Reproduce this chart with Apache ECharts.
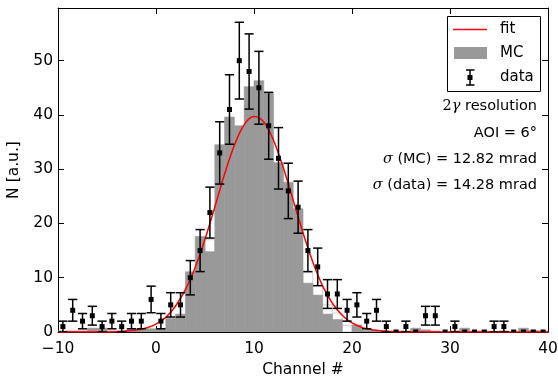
<!DOCTYPE html>
<html><head><meta charset="utf-8">
<script src="https://cdn.jsdelivr.net/npm/echarts@6/dist/echarts.min.js"></script>
<style>html,body{margin:0;padding:0;background:#fff}#c{width:558px;height:380px}</style>
</head><body><div id="c"></div>
<script>
// ---- data ----
const binStarts = [-10,-9,-8,-7,-6,-5,-4,-3,-2,-1,0,1,2,3,4,5,6,7,8,9,10,11,12,13,14,15,16,17,18,19,20,21,22,23,24,25,26,27,28,29,30,31,32,33,34,35,36,37,38,39];
const mcValues = [0.2,0.2,0.2,0.7,0.7,0.2,0.2,0.4,0.4,0.6,0.6,2.5,3.3,11.1,17.6,14.8,34.5,39.6,38.0,45.2,46.3,44.0,31.2,27.6,22.7,9.0,6.8,3.3,2.3,0,1.3,0.3,0.3,0,0.2,0.2,0.7,0.4,0.2,0,0.2,0.7,0.2,0.2,0,0.2,0,0.7,0.3,0.2];
const mcOutline = [0,0,0,0,0,0,0,0,0,0,0,0,0,0,0,17.0,0,0,0,0,0,0,0,0,0,10.9,8.5,5.0,3.5,1.2,0,0.6,0,0,0,0,0,0,0,0,0,0,0,0,0,0,0,0,0,0];
const dataCenters = [-9.5,-8.5,-7.5,-6.5,-5.5,-4.5,-3.5,-2.5,-1.5,-0.5,0.5,1.5,2.5,3.5,4.5,5.5,6.5,7.5,8.5,9.5,10.5,11.5,12.5,13.5,14.5,15.5,16.5,17.5,18.5,19.5,20.5,21.5,22.5,23.5,24.5,25.5,26.5,27.5,28.5,29.5,30.5,31.5,32.5,33.5,34.5,35.5,36.5,37.5,38.5,39.5];
const dataCounts = [1,4,2,3,1,2,1,2,2,6,2,5,5,10,15,22,33,41,50,48,45,38,32,26,23,15,12,7,7,4,5,2,4,1,0,1,0,3,3,0,1,0,0,0,1,1,0,0,0,0];
const dataErrors = [1,2,1.41,1.73,1,1.41,1,1.41,1.41,2.45,1.41,2.24,2.24,3.16,3.87,4.69,5.74,6.40,7.07,6.93,6.71,6.16,5.66,5.10,4.80,3.87,3.46,2.65,2.65,2,2.24,1.41,2,1,0,1,0,1.73,1.73,0,1,0,0,0,1,1,0,0,0,0];
const fitX = [-10,-6,-4,-2,-1,0,1,2,3,4,5,6,7,8,9,10,11,12,13,14,15,16,17,18,19,20,21,22,24,26,30,40];
const fitY = [0,0.01,0.06,0.35,0.74,1.46,2.7,4.8,7.8,11.9,17.1,23.0,29.1,34.4,38.2,39.7,38.7,35.3,30.2,24.3,18.3,12.9,8.5,5.3,3.1,1.67,0.85,0.41,0.08,0.01,0,0];
const xTickValues = [-10,0,10,20,30,40];
const yTickValues = [0,10,20,30,40,50];
const annotations = ['{s|2}{m|γ} resolution', 'AOI = 6{s|°}', '{m|σ} (MC) = 12.82 mrad', '{m|σ} (data) = 14.28 mrad'];
const legendLabels = ['fit','MC','data'];

const FONT = 'DejaVu Sans';
const chart = echarts.init(document.getElementById('c'), null, {renderer:'canvas'});

function xFmt(v){ return v < 0 ? '\u2212' + Math.abs(v) : String(v); }
function yFmt(v){ return yTickValues.indexOf(Math.round(v*1000)/1000) >= 0 ? String(v) : ''; }

function axisCommon(){ return {
  axisLine:{show:true, onZero:false, lineStyle:{color:'#000', width:1}},
  axisTick:{show:true, inside:true, length:6, lineStyle:{color:'#000', width:1}},
  splitLine:{show:false}
};}

function histRender(color, strokeColor){
  return function(params, api){
    const c = api.value(0), h = api.value(1);
    if (!(h > 0)) return null;
    const p0 = api.coord([c, 0]);
    const p1 = api.coord([c + 1, h]);
    return {type:'rect', shape:{x:p0[0], y:p1[1], width:p1[0]-p0[0], height:p0[1]-p1[1]},
      style:{fill:color, stroke:strokeColor, lineWidth: strokeColor === color ? 0.6 : 1}};
  };
}

const option = {
  animation:false,
  backgroundColor:'#fff',
  grid:{left:58, right:10, top:8, bottom:48, containLabel:false, outerBoundsMode:'none'},
  xAxis:[
    Object.assign({type:'value', min:-10, max:40, interval:10, position:'bottom',
      axisLabel:{show:true, color:'#000', fontFamily:FONT, fontSize:15.5, margin:9, formatter:xFmt},
      name:'Channel #', nameLocation:'middle', nameGap:30,
      nameTextStyle:{color:'#000', fontFamily:FONT, fontSize:15.5}}, axisCommon()),
    Object.assign({type:'value', min:-10, max:40, interval:10, position:'top',
      axisLabel:{show:false}}, axisCommon())
  ],
  yAxis:[
    Object.assign({type:'value', min:0, max:59.7, interval:10, position:'left',
      axisLabel:{show:true, color:'#000', fontFamily:FONT, fontSize:15.5, margin:5, formatter:yFmt},
      name:'N [a.u.]', nameLocation:'middle', nameGap:34,
      nameTextStyle:{color:'#000', fontFamily:FONT, fontSize:15.5}}, axisCommon()),
    Object.assign({type:'value', min:0, max:59.7, interval:10, position:'right',
      axisLabel:{show:false}}, axisCommon())
  ],
  series:[
    {type:'custom', name:'MC outline', coordinateSystem:'cartesian2d', xAxisIndex:0, yAxisIndex:0, clip:true, z:1,
      data: binStarts.map((c,i)=>[c, mcOutline[i]]), renderItem: histRender('#ffffff', '#d2d2d2')},
    {type:'custom', name:'MC', coordinateSystem:'cartesian2d', xAxisIndex:0, yAxisIndex:0, clip:true, z:2,
      data: binStarts.map((c,i)=>[c, mcValues[i]]), renderItem: histRender('#999999', '#999999')},
    {type:'line', name:'fit', xAxisIndex:0, yAxisIndex:0, z:3, smooth:0.35, showSymbol:false, symbol:'none', clip:true,
      lineStyle:{color:'#ff0000', width:1.5}, data: fitX.map((x,i)=>[x, fitY[i]])},
    {type:'custom', name:'data', coordinateSystem:'cartesian2d', xAxisIndex:0, yAxisIndex:0, clip:true, z:4,
      data: dataCenters.map((x,i)=>[x, dataCounts[i], dataErrors[i]]),
      renderItem: function(params, api){
        const x = api.value(0), n = api.value(1), e = api.value(2);
        const p = api.coord([x, n]);
        const children = [];
        if (e > 0) {
          const t = api.coord([x, n + e]), b = api.coord([x, n - e]);
          const st = {stroke:'#000', lineWidth:1.5};
          children.push({type:'line', shape:{x1:p[0], y1:t[1], x2:p[0], y2:b[1]}, style:st});
          children.push({type:'line', shape:{x1:p[0]-4.6, y1:t[1], x2:p[0]+4.6, y2:t[1]}, style:st});
          children.push({type:'line', shape:{x1:p[0]-4.6, y1:b[1], x2:p[0]+4.6, y2:b[1]}, style:st});
        }
        children.push({type:'rect', shape:{x:p[0]-2.5, y:p[1]-2.5, width:5, height:5}, style:{fill:'#000'}});
        return {type:'group', children:children};
      }}
  ],
  graphic:[
    {type:'rect', z:100, shape:{x:447.5, y:16.5, width:93, height:75}, style:{fill:'#fff', stroke:'#000', lineWidth:1}},
    {type:'line', z:101, shape:{x1:453, y1:29.5, x2:487, y2:29.5}, style:{stroke:'#ff0000', lineWidth:1.5}},
    {type:'rect', z:101, shape:{x:454, y:47, width:33, height:12}, style:{fill:'#999999'}},
    {type:'line', z:101, shape:{x1:470, y1:70, x2:470, y2:85}, style:{stroke:'#000', lineWidth:1.5}},
    {type:'line', z:101, shape:{x1:466, y1:70, x2:474.5, y2:70}, style:{stroke:'#000', lineWidth:1.5}},
    {type:'line', z:101, shape:{x1:466, y1:85, x2:474.5, y2:85}, style:{stroke:'#000', lineWidth:1.5}},
    {type:'rect', z:101, shape:{x:467.5, y:75, width:5, height:5}, style:{fill:'#000'}},
    {type:'text', z:101, x:500, y:29.5, style:{text:legendLabels[0], font:'15px "DejaVu Sans"', fill:'#000', verticalAlign:'middle'}},
    {type:'text', z:101, x:500, y:53, style:{text:legendLabels[1], font:'15px "DejaVu Sans"', fill:'#000', verticalAlign:'middle'}},
    {type:'text', z:101, x:500, y:77.5, style:{text:legendLabels[2], font:'15px "DejaVu Sans"', fill:'#000', verticalAlign:'middle'}}
  ].concat(annotations.map((t,i)=>({
    type:'text', z:101, x:537, y:106.5 + i*26.4,
    style:{text:t, align:'right', verticalAlign:'middle', fill:'#000', fontFamily:FONT, fontSize:14.5,
      rich:{
        m:{fontFamily:'DejaVu Serif', fontStyle:'italic', fontSize:14.5, fill:'#000'},
        s:{fontFamily:'DejaVu Serif', fontSize:14.5, fill:'#000'}
      }}
  })))
};
chart.setOption(option);
</script></body></html>
